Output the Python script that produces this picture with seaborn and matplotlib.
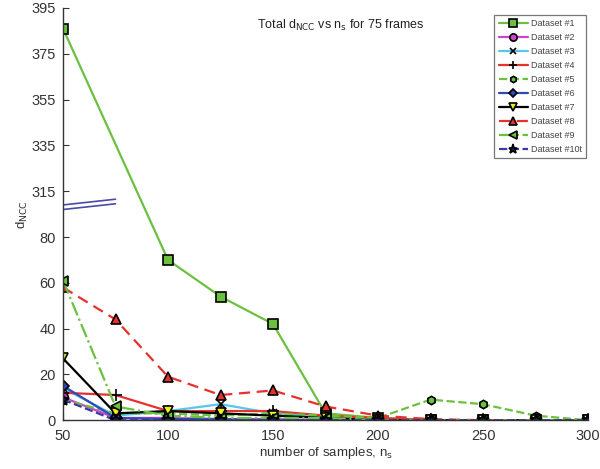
import numpy as np
import pandas as pd
import matplotlib
matplotlib.use("Agg")
import matplotlib.pyplot as plt
import seaborn as sns

# ---- Data (real d_NCC values; values above the axis break are shifted down) ----
X_ALL = [50, 75, 100, 125, 150, 175, 200, 225, 250, 275, 300]
X_DS1 = [50, 100, 125, 150, 175, 200, 225, 250, 275, 300]

ds1 = [386, 70, 54, 42, 3, 1, 0, 0, 0, 0]
ds2 = [10, 1, 1, 0.5, 0.5, 0, 0, 0, 0, 0, 0]
ds3 = [14, 2, 4, 7, 3, 1, 0, 0, 0, 0, 0]
ds4 = [12, 11, 4, 4, 4, 2, 1, 0, 0, 0, 0]
ds5 = [9, 3, 3, 2, 3, 2, 1, 9, 7, 2, 0]
ds6 = [15, 1, 0.5, 0.5, 0, 0, 0, 0, 0, 0, 0]
ds7 = [27, 3, 4, 3, 2, 1, 0, 0, 0, 0, 0]
ds8 = [58, 44, 19, 11, 13, 6, 2, 0.5, 0, 0, 0]
ds9 = [61, 6, 2, 1, 1, 1, 0, 0, 0, 0, 0]
ds10 = [9, 0, 0, 0, 0, 0, 0, 0, 0, 0, 0]

LABELS = ["Dataset #1", "Dataset #2", "Dataset #3", "Dataset #4", "Dataset #5",
          "Dataset #6", "Dataset #7", "Dataset #8", "Dataset #9", "Dataset #10t"]

Y_TICKS = [0, 20, 40, 60, 80, 315, 335, 355, 375, 395]
X_TICKS = [50, 100, 150, 200, 250, 300]

BREAK_OFFSET = 215  # 315 drawn where 100 would be
BREAK_X = [50, 75]
BREAK_Y1 = [307, 309.5]
BREAK_Y2 = [309, 311.5]

GREEN = "#6cc040"
RED = "#e8302c"


def to_axis(v):
    v = np.asarray(v, dtype=float)
    return np.where(v > 200, v - BREAK_OFFSET, v)


# (x, y, color, linestyle, marker, facecolor, markersize)
series = [
    (X_DS1, ds1, GREEN, "-", "s", GREEN, 7),
    (X_ALL, ds2, "#cc44cc", "-", "o", "#cc44cc", 7),
    (X_ALL, ds3, "#55c8e8", "-", "x", "#55c8e8", 6),
    (X_ALL, ds4, RED, "-", "+", RED, 8),
    (X_ALL, ds5, GREEN, "--", "h", GREEN, 6),
    (X_ALL, ds6, "#3048b8", "-", "D", "#3048b8", 6),
    (X_ALL, ds7, "black", "-", "v", "#f0f020", 7),
    (X_ALL, ds8, RED, (0, (5, 3)), "^", RED, 7),
    (X_ALL, ds9, GREEN, "-.", "<", GREEN, 7),
    (X_ALL, ds10, "#3a3aa0", "--", "*", "#202060", 9),
]

sns.set_style("white")
plt.rcParams["font.family"] = ["Liberation Sans", "DejaVu Sans"]

fig = plt.figure(figsize=(6.0, 4.69), dpi=100)
ax = fig.add_axes([0.105, 0.104, 0.875, 0.879])

for (xs, ys, col, ls, mk, fc, ms), lab in zip(series, LABELS):
    df = pd.DataFrame({"x": xs, "y": to_axis(ys)})
    sns.lineplot(data=df, x="x", y="y", ax=ax, color=col, linestyle=ls,
                 linewidth=1.6, marker=mk, markersize=ms, markerfacecolor=fc,
                 markeredgecolor="black", markeredgewidth=1.2, label=lab)

# axis break marks
ax.plot(BREAK_X, to_axis(BREAK_Y1), color="#4a4aa8", lw=1.2)
ax.plot(BREAK_X, to_axis(BREAK_Y2), color="#4a4aa8", lw=1.2)

ax.set_xlim(50, 300)
ax.set_ylim(0, 180)
ax.set_xticks(X_TICKS)
ax.set_yticks(to_axis(Y_TICKS))
ax.set_yticklabels([str(t) for t in Y_TICKS])
ax.tick_params(direction="in", length=4, labelsize=10.5, colors="#333333",
               left=True, bottom=True)
ax.tick_params(axis="x", pad=6)
ax.tick_params(axis="y", pad=5)

for side in ["top", "right"]:
    ax.spines[side].set_visible(False)
for side in ["left", "bottom"]:
    ax.spines[side].set_color("#333333")
    ax.spines[side].set_linewidth(1.0)

ax.set_xlabel(r"number of samples, n$_{\rm s}$", fontsize=9.5, color="#333333",
              labelpad=2)
ax.set_ylabel(r"d$_{\rm NCC}$", fontsize=9.5, color="#333333", labelpad=1)
ax.text(0.53, 0.975, r"Total d$_{\rm NCC}$ vs n$_{\rm s}$ for 75 frames",
        transform=ax.transAxes, ha="center", va="top", fontsize=9, color="#222222")

leg = ax.legend(loc="upper right", bbox_to_anchor=(1.005, 0.995), fontsize=6.5,
                frameon=True, fancybox=False, edgecolor="#555555",
                handlelength=3.2, labelspacing=0.55, borderpad=0.5,
                handletextpad=0.3, markerscale=0.75)
leg.get_frame().set_linewidth(0.9)
for t in leg.get_texts():
    t.set_color("#444444")

fig.savefig("out.png", dpi=100)
